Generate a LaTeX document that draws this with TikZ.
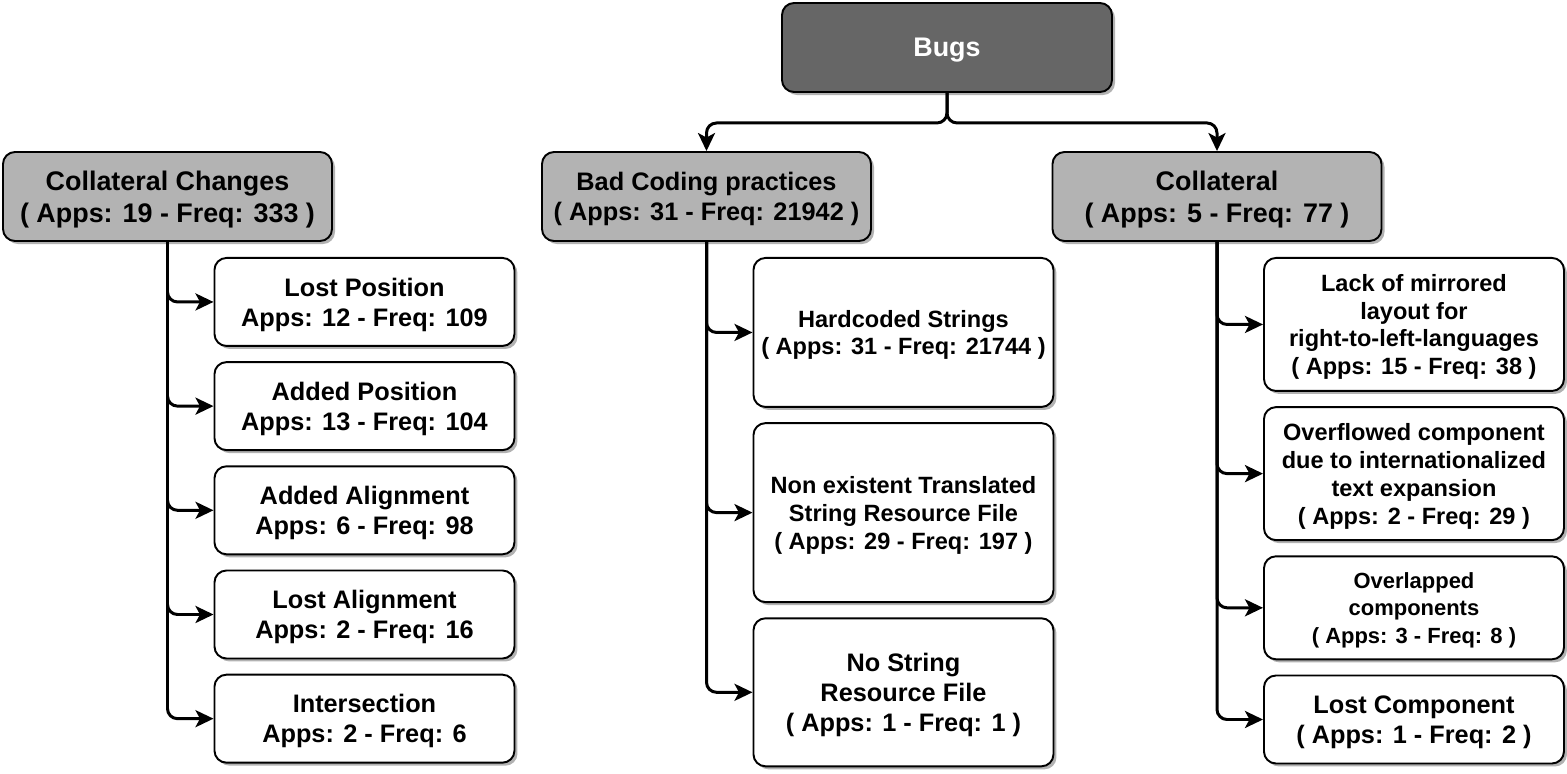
\documentclass[tikz,border=0pt]{standalone}
\usepackage{fontspec}
\setmainfont{Liberation Sans}
\usetikzlibrary{positioning, arrows.meta, shadows}
\definecolor{rootgray}{HTML}{666666}
\definecolor{groupgray}{HTML}{B3B3B3}

\begin{document}
\begin{tikzpicture}[>={Stealth[length=0.36cm, width=0.34cm, inset=0.09cm]}, node distance=0.285cm, every node/.style={font=\bfseries\fontsize{15.3}{18.2}\selectfont}]
  \tikzset{box/.style={draw, line width=1.1pt, rounded corners=0.24cm, align=center, inner sep=2pt, text depth=-3pt, drop shadow={shadow xshift=0.06cm, shadow yshift=-0.06cm, fill=black, opacity=0.3}},
    root/.style={box, fill=rootgray, text=white, minimum width=6.6cm, minimum height=1.78cm},
    group/.style={box, fill=groupgray, minimum width=6.58cm, minimum height=1.78cm},
    leaf/.style={box, fill=white, minimum width=6cm, minimum height=1.76cm},
    midfont/.style={font=\bfseries\fontsize{14.4}{17.1}\selectfont},
    smallfont/.style={font=\bfseries\fontsize{13.4}{15.9}\selectfont},
    tinyfont/.style={font=\bfseries\fontsize{12.5}{15.6}\selectfont},
    link/.style={->, line width=1.7pt, rounded corners=0.2cm}}
  \useasboundingbox (0,0) rectangle (31.34,-15.46);

  % top levels
  \node[root] (bugs) at (18.94,-0.95) {Bugs};
  \node[group] (cc) at (3.35,-3.93) {Collateral Changes\\( Apps: 19 - Freq: 333 )};
  \node[group, midfont] (bcp) at (14.13,-3.93) {Bad Coding practices\\( Apps: 31 - Freq: 21942 )};
  \node[group] (col) at (24.34,-3.93) {Collateral\\( Apps: 5 - Freq: 77 )};

  \draw[link] (bugs.south) -- ++(0,-0.6) -| (bcp.north);
  \draw[link] (bugs.south) -- ++(0,-0.6) -| (col.north);

  % collateral changes
  \node[leaf, midfont, below right=0.3cm and 0.92cm of cc.south] (lostpos) {Lost Position\\Apps: 12 - Freq: 109};
  \node[leaf, midfont, below=of lostpos] (addpos) {Added Position\\Apps: 13 - Freq: 104};
  \node[leaf, midfont, below=of addpos] (addalign) {Added Alignment\\Apps: 6 - Freq: 98};
  \node[leaf, midfont, below=of addalign] (lostalign) {Lost Alignment\\Apps: 2 - Freq: 16};
  \node[leaf, midfont, below=of lostalign] (inters) {Intersection\\Apps: 2 - Freq: 6};

  \draw[link] (cc.south) |- (lostpos.west);
  \draw[link] (cc.south) |- (addpos.west);
  \draw[link] (cc.south) |- (addalign.west);
  \draw[link] (cc.south) |- (lostalign.west);
  \draw[link] (cc.south) |- (inters.west);

  % bad coding practices
  \node[leaf, smallfont, minimum height=2.98cm, below right=0.3cm and 0.92cm of bcp.south] (hardcoded) {Hardcoded Strings\\( Apps: 31 - Freq: 21744 )};
  \node[leaf, smallfont, minimum height=3.58cm, below=of hardcoded] (nontrans) {Non existent Translated\\String Resource File\\( Apps: 29 - Freq: 197 )};
  \node[leaf, midfont, minimum height=2.96cm, below=of nontrans] (nostring) {No String\\Resource File\\( Apps: 1 - Freq: 1 )};

  \draw[link] (bcp.south) |- (hardcoded.west);
  \draw[link] (bcp.south) |- (nontrans.west);
  \draw[link] (bcp.south) |- (nostring.west);

  % collateral
  \node[leaf, smallfont, minimum height=2.66cm, below right=0.3cm and 0.92cm of col.south] (mirror) {Lack of mirrored\\layout for\\right-to-left-languages\\( Apps: 15 - Freq: 38 )};
  \node[leaf, smallfont, minimum height=2.66cm, below=of mirror] (overflow) {Overflowed component\\due to internationalized\\text expansion\\( Apps: 2 - Freq: 29 )};
  \node[leaf, tinyfont, minimum height=2.06cm, below=of overflow] (overlap) {Overlapped\\components\\( Apps: 3 - Freq: 8 )};
  \node[leaf, midfont, below=of overlap] (lostcomp) {Lost Component\\( Apps: 1 - Freq: 2 )};

  \draw[link] (col.south) |- (mirror.west);
  \draw[link] (col.south) |- (overflow.west);
  \draw[link] (col.south) |- (overlap.west);
  \draw[link] (col.south) |- (lostcomp.west);
\end{tikzpicture}
\end{document}
